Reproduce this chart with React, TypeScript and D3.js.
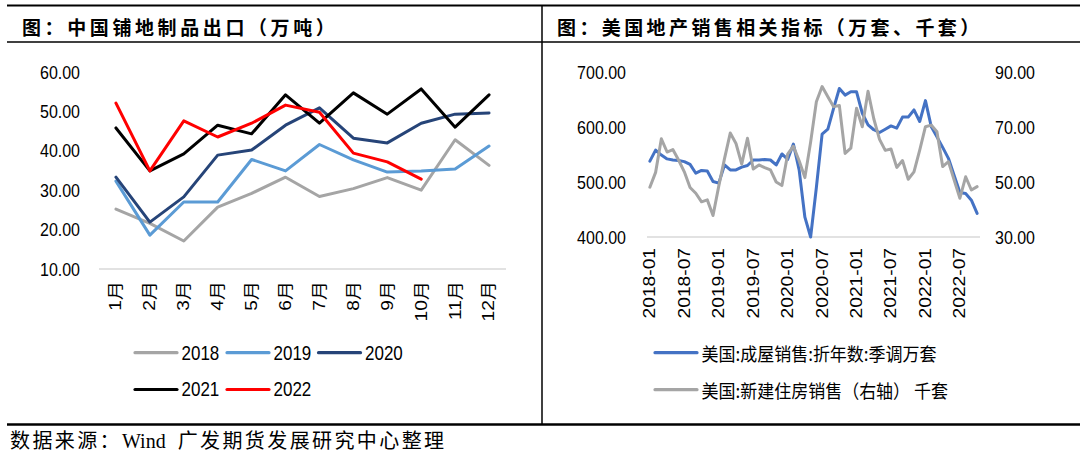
import React from "react";
import * as d3 from "d3";

// ---------- Left chart data: 中国铺地制品出口（万吨） ----------
const months = ["1月", "2月", "3月", "4月", "5月", "6月", "7月", "8月", "9月", "10月", "11月", "12月"];
const leftTicks = [10, 20, 30, 40, 50, 60];
const years = ["2018", "2019", "2020", "2021", "2022"];
const s2018 = [25.2, 21.6, 17.1, 25.7, 29.2, 33.3, 28.4, 30.4, 33.2, 30.0, 42.8, 36.3];
const s2019 = [32.3, 18.6, 27.0, 27.0, 37.8, 34.9, 41.6, 37.7, 34.6, 34.9, 35.4, 41.2];
const s2020 = [33.3, 21.9, 28.3, 38.9, 40.2, 46.5, 50.9, 43.2, 42.0, 47.0, 49.3, 49.6];
const s2021 = [45.8, 34.9, 39.2, 46.5, 44.3, 54.2, 47.0, 54.7, 49.3, 55.7, 46.0, 54.2];
const s2022 = [52.1, 34.9, 47.6, 43.5, 47.0, 51.6, 49.8, 39.4, 37.2, 32.8];
const yearColors = ["#A5A5A5", "#5B9BD5", "#264478", "#000000", "#FF0000"];

// ---------- Right chart data: 美国地产销售相关指标 ----------
const startYear = 2018;
const monthCount = 58; // 2018-01 .. 2022-10
const leftAxisTicks = [400, 500, 600, 700];
const rightAxisTicks = [30, 50, 70, 90];
const existingSales = [
  538, 558, 549, 542, 540, 539, 537, 532, 516, 521, 520, 501,
  498, 531, 522, 522, 527, 530, 540, 540, 541, 540, 531, 551,
  541, 569, 522, 436, 400, 490, 587, 596, 634, 670, 658, 664,
  664, 625, 604, 595, 590, 596, 602, 598, 618, 618, 631, 610,
  648, 601, 582, 563, 543, 512, 481, 479, 467, 443,
];
const newSales = [
  48.1, 53.5, 65.7, 60.9, 61.8, 58.0, 53.7, 48.0, 45.9, 42.8, 43.5, 37.8,
  48.5, 58.5, 67.8, 64.0, 56.5, 65.9, 54.7, 56.2, 55.2, 54.4, 50.0, 48.7,
  60.1, 63.0, 57.7, 51.6, 64.5, 79.2, 84.7, 81.0, 77.4, 77.8, 60.4, 62.3,
  76.8, 70.1, 83.0, 73.0, 65.5, 61.5, 62.0, 55.3, 57.8, 51.0, 53.7, 61.6,
  70.1, 70.7, 68.3, 55.6, 57.4, 50.7, 44.1, 51.9, 47.1, 48.3,
];
const rightLegend = ["美国:成屋销售:折年数:季调万套", "美国:新建住房销售（右轴） 千套"];
const rightColors = ["#4472C4", "#A5A5A5"];

const dates: string[] = [];
for (let i = 0; i < monthCount; i++) {
  const y = startYear + Math.floor(i / 12);
  const m = (i % 12) + 1;
  dates.push(`${y}-${m < 10 ? "0" + m : m}`);
}

const SY = 1.2; // vertical stretch of chart images
const SANS = "Liberation Sans, Arial, Noto Sans CJK SC, sans-serif";
const CJK = "Noto Sans CJK SC, sans-serif";

function SText(props: {
  x: number; y: number; text: string; anchor?: string; size?: number;
  rotate?: boolean; family?: string; sy?: number;
}) {
  const { x, y, text, anchor = "start", size = 16, rotate = false, family = SANS, sy = SY } = props;
  return (
    <text
      transform={`translate(${x},${y}) scale(1,${sy})${rotate ? " rotate(-90)" : ""}`}
      textAnchor={anchor}
      dominantBaseline="central"
      fontSize={size}
      fontFamily={family}
      fill="#000"
    >
      {text}
    </text>
  );
}

export default function App() {
  // left chart scales
  const xL = d3.scalePoint<string>().domain(months).range([99, 506]).padding(0.5);
  const yL = d3.scaleLinear().domain([10, 60]).range([269, 72]);
  const seriesL = [s2018, s2019, s2020, s2021, s2022];
  const lineL = (vals: number[]) =>
    d3.line<number>().x((_, i) => xL(months[i])!).y((v) => yL(v))(vals) || "";

  // right chart scales
  const xR = d3.scalePoint<string>().domain(dates).range([647, 980]).padding(0.5);
  const yRL = d3.scaleLinear().domain([400, 700]).range([237, 72]);
  const yRR = d3.scaleLinear().domain([30, 90]).range([237, 72]);
  const lineR = (vals: number[], sc: d3.ScaleLinear<number, number>) =>
    d3.line<number>().x((_, i) => xR(dates[i])!).y((v) => sc(v))(vals) || "";

  const legendPos = [
    { x: 135, y: 352.7 },
    { x: 227, y: 352.7 },
    { x: 318.5, y: 352.7 },
    { x: 135, y: 389.5 },
    { x: 227, y: 389.5 },
  ];

  return (
    <svg
      width={1080}
      height={459}
      style={{ position: "absolute", left: 0, top: 0, background: "#fff" }}
    >
      <rect x={0} y={0} width={1080} height={459} fill="#fff" />
      {/* frame */}
      <line x1={7} x2={1080} y1={5.5} y2={5.5} stroke="#000" strokeWidth={2.2} />
      <line x1={7} x2={1080} y1={42} y2={42} stroke="#000" strokeWidth={1.6} />
      <line x1={542} x2={542} y1={5} y2={424} stroke="#000" strokeWidth={1.5} />
      <line x1={7} x2={1080} y1={424.5} y2={424.5} stroke="#000" strokeWidth={2.6} />

      {/* titles */}
      <text x={22} y={26} dominantBaseline="central" fontSize={19} letterSpacing={3.6}
        fontWeight="bold" fontFamily={CJK}>图：中国铺地制品出口（万吨）</text>
      <text x={557} y={26} dominantBaseline="central" fontSize={19} letterSpacing={3.4}
        fontWeight="bold" fontFamily={CJK}>图：美国地产销售相关指标（万套、千套）</text>

      {/* source */}
      <text x={10} y={441} dominantBaseline="central" fontSize={20}
        fontFamily={"Liberation Serif, Noto Sans CJK SC, serif"}>
        <tspan letterSpacing={2.4}>数据来源：</tspan>
        <tspan>Wind</tspan>
        <tspan dx={12} letterSpacing={2.4}>广发期货发展研究中心整理</tspan>
      </text>

      {/* ---------- left chart ---------- */}
      <line x1={99} x2={506} y1={yL(10)} y2={yL(10)} stroke="#D9D9D9" strokeWidth={1.5} />
      {leftTicks.map((t) => (
        <SText key={t} x={80} y={yL(t)} text={t.toFixed(2)} anchor="end" size={16} />
      ))}
      {months.map((m) => (
        <SText key={m} x={xL(m)!} y={281} text={m} anchor="end" size={16} rotate />
      ))}
      {seriesL.map((s, k) => (
        <path key={k} d={lineL(s)} fill="none" stroke={yearColors[k]} strokeWidth={3}
          strokeLinejoin="round" strokeLinecap="round" />
      ))}
      {years.map((yr, k) => (
        <g key={yr}>
          <line x1={legendPos[k].x} x2={legendPos[k].x + 42} y1={legendPos[k].y} y2={legendPos[k].y}
            stroke={yearColors[k]} strokeWidth={3.2} strokeLinecap="round" />
          <SText x={legendPos[k].x + 46.5} y={legendPos[k].y} text={yr} size={17} sy={1.15} />
        </g>
      ))}

      {/* ---------- right chart ---------- */}
      <line x1={647} x2={980} y1={yRL(400)} y2={yRL(400)} stroke="#D9D9D9" strokeWidth={1.5} />
      {leftAxisTicks.map((t) => (
        <SText key={t} x={626} y={yRL(t)} text={t.toFixed(2)} anchor="end" size={16} />
      ))}
      {rightAxisTicks.map((t) => (
        <SText key={t} x={995} y={yRR(t)} text={t.toFixed(2)} anchor="start" size={16} />
      ))}
      {dates.filter((_, i) => i % 6 === 0).map((d) => (
        <SText key={d} x={xR(d)!} y={248} text={d} anchor="end" size={16} rotate />
      ))}
      <path d={lineR(existingSales, yRL)} fill="none" stroke={rightColors[0]} strokeWidth={3}
        strokeLinejoin="round" strokeLinecap="round" />
      <path d={lineR(newSales, yRR)} fill="none" stroke={rightColors[1]} strokeWidth={3}
        strokeLinejoin="round" strokeLinecap="round" />
      {rightLegend.map((t, k) => (
        <g key={t}>
          <line x1={655} x2={697} y1={352.7 + k * 37} y2={352.7 + k * 37}
            stroke={rightColors[k]} strokeWidth={3.2} strokeLinecap="round" />
          <SText x={701.5} y={352.7 + k * 37} text={t} size={17} sy={1.1} family={CJK} />
        </g>
      ))}
    </svg>
  );
}
